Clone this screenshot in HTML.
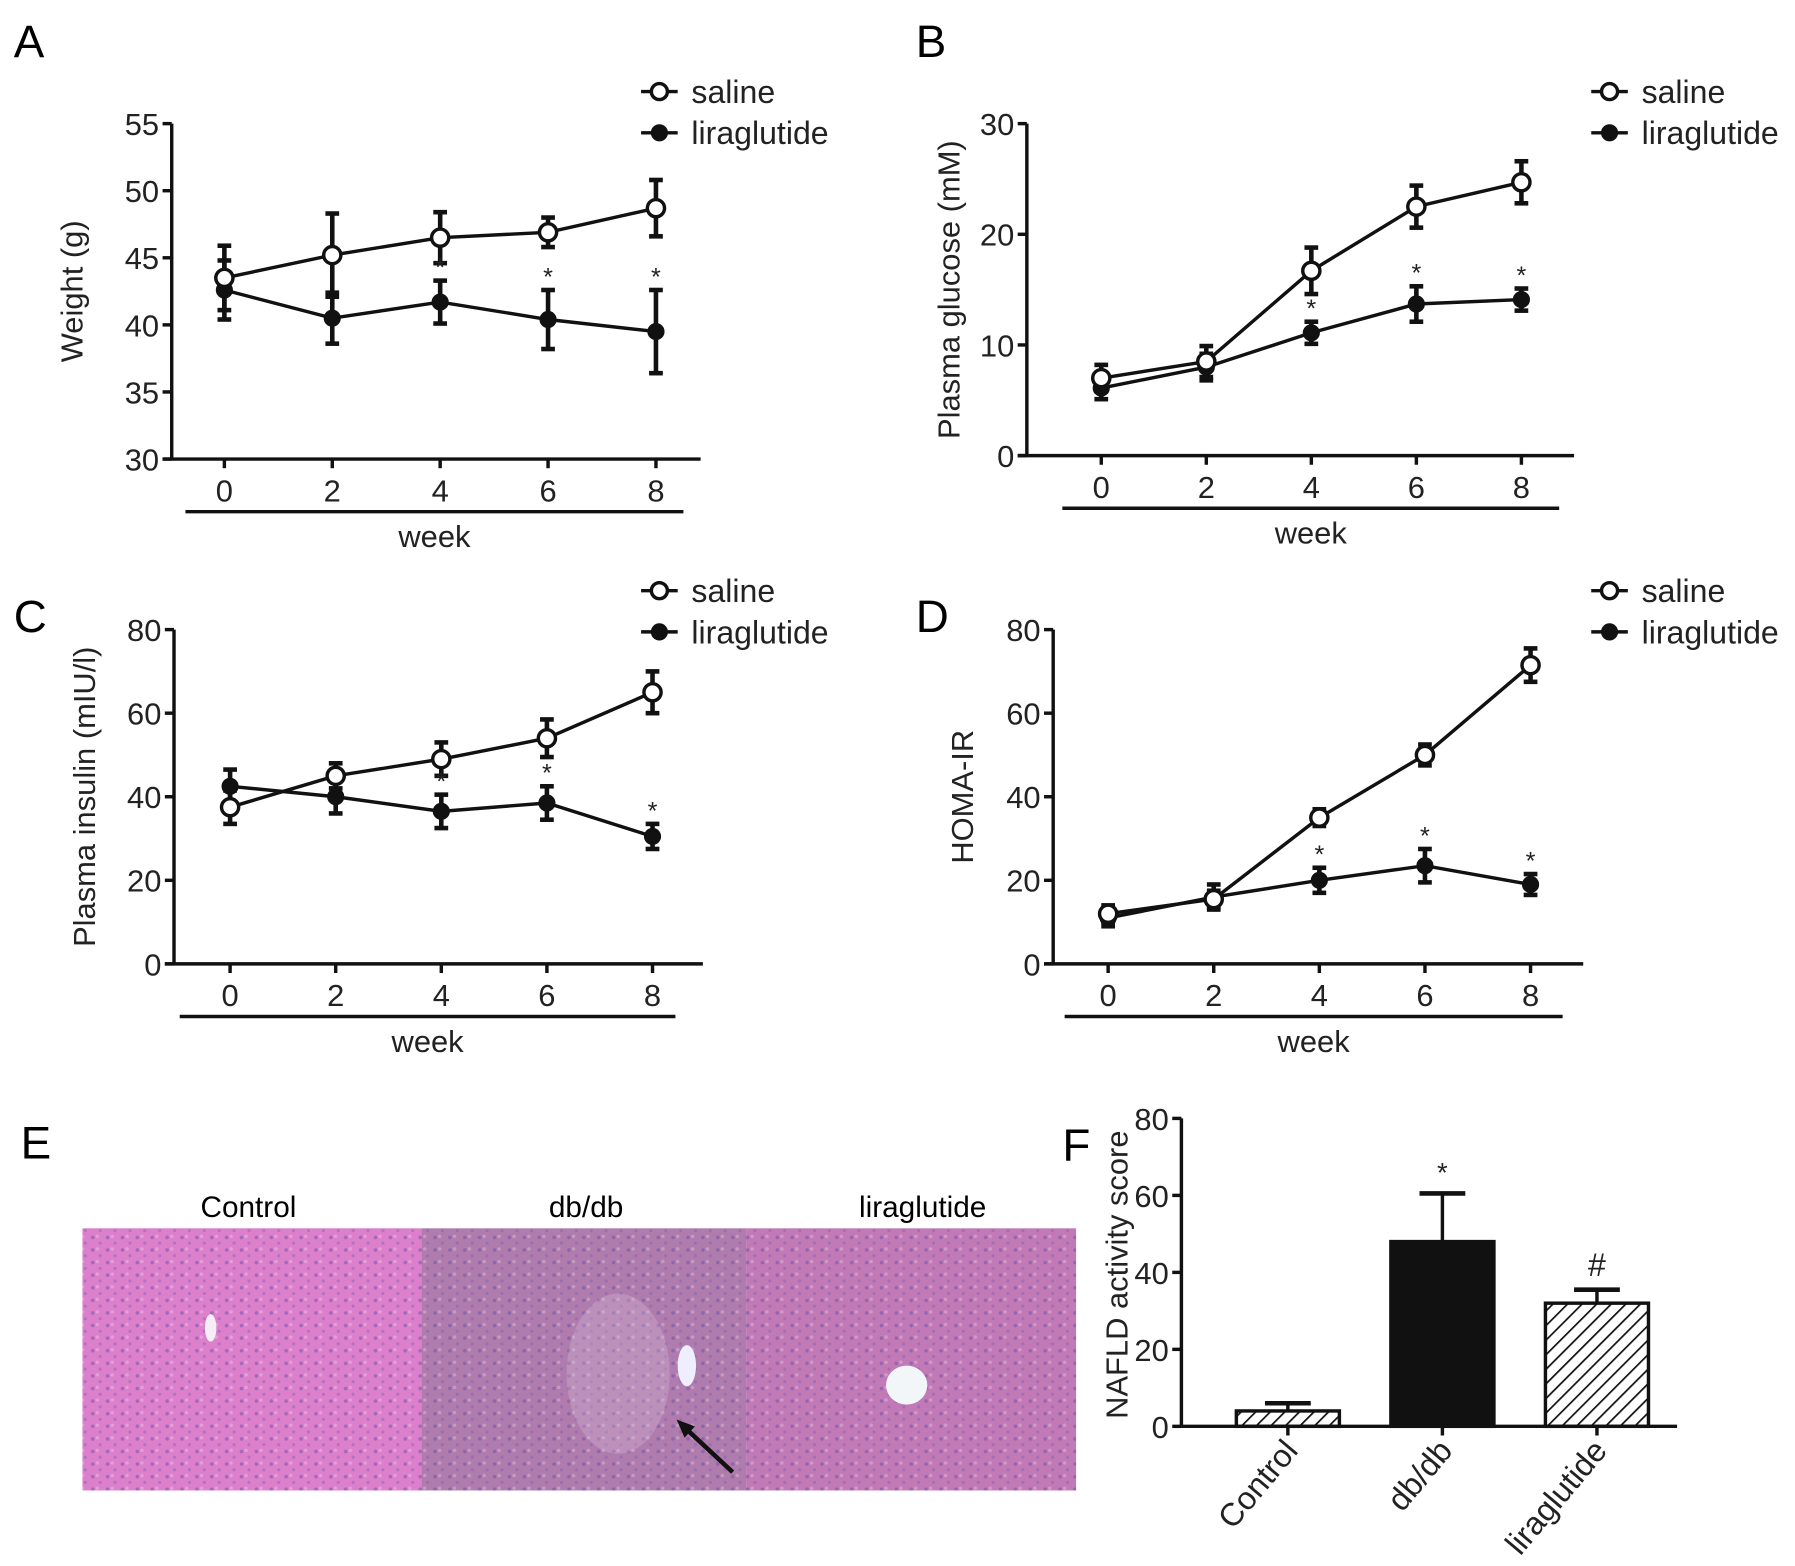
<!DOCTYPE html>
<html><head><meta charset="utf-8"><style>
html,body{margin:0;padding:0;background:#fff;}
svg{display:block;font-family:"Liberation Sans",sans-serif;}
</style></head><body>
<svg id="fig" width="1795" height="1566" viewBox="0 0 1568 1368" preserveAspectRatio="none" xmlns="http://www.w3.org/2000/svg">
<defs>
<pattern id="hatch" patternUnits="userSpaceOnUse" width="9" height="9" patternTransform="rotate(45)">
<rect width="9" height="9" fill="#fff"/><line x1="0" y1="0" x2="0" y2="9" stroke="#111" stroke-width="3"/>
</pattern>
<pattern id="cells" patternUnits="userSpaceOnUse" width="13" height="11">
<circle cx="3" cy="3" r="1.6" fill="#6a4fa8" opacity="0.5"/><circle cx="9.5" cy="8" r="1.4" fill="#7a5ab0" opacity="0.4"/><circle cx="7" cy="2" r="1.5" fill="#fff" opacity="0.25"/>
</pattern>
</defs>
<g id="panels"></g>
<g id="histo">
<text x="18" y="1012" font-size="40">E</text>
<text x="217" y="1063" font-size="26" text-anchor="middle">Control</text>
<text x="512" y="1063" font-size="26" text-anchor="middle">db/db</text>
<text x="806" y="1063" font-size="26" text-anchor="middle">liraglutide</text>
<rect x="72" y="1073" width="296" height="229" fill="#dc80cc"/>
<rect x="368" y="1073" width="284" height="229" fill="#b07cad"/>
<rect x="652" y="1073" width="288" height="229" fill="#c27ab6"/>
<rect x="72" y="1073" width="868" height="229" fill="url(#cells)"/>
<ellipse cx="540" cy="1200" rx="45" ry="70" fill="#d8c0dc" opacity="0.3"/>
<ellipse cx="600" cy="1193" rx="8" ry="18" fill="#eef" />
<ellipse cx="792" cy="1210" rx="18" ry="17" fill="#f2f6f8"/>
<ellipse cx="184" cy="1160" rx="5" ry="12" fill="#f6eef6"/>
<line x1="640" y1="1286" x2="597" y2="1246" stroke="#111" stroke-width="4"/>
<polygon points="591,1240 607,1246 598,1256" fill="#111"/>
</g>
<g id="panelF"></g>
</svg>
<script>
// ---------- data ----------
const weeks = [0, 2, 4, 6, 8];
const weightSaline = [43.5, 45.2, 46.5, 46.9, 48.7];
const weightSalineErr = [2.4, 3.1, 1.9, 1.1, 2.1];
const weightLira = [42.6, 40.5, 41.7, 40.4, 39.5];
const weightLiraErr = [2.2, 1.9, 1.6, 2.2, 3.1];
const glucoseSaline = [7.0, 8.5, 16.7, 22.5, 24.7];
const glucoseSalineErr = [1.2, 1.4, 2.1, 1.9, 1.9];
const glucoseLira = [6.1, 8.0, 11.1, 13.7, 14.1];
const glucoseLiraErr = [1.0, 1.2, 1.0, 1.6, 1.0];
const insulinSaline = [37.5, 45, 49, 54, 65];
const insulinSalineErr = [4, 3, 4, 4.5, 5];
const insulinLira = [42.5, 40, 36.5, 38.5, 30.5];
const insulinLiraErr = [4, 4, 4, 4, 3];
const homaSaline = [12, 15.5, 35, 50, 71.5];
const homaSalineErr = [2, 2, 2, 2.5, 4];
const homaLira = [11, 16, 20, 23.5, 19];
const homaLiraErr = [2, 3, 3, 4, 2.5];
const starFlags = [0, 0, 1, 1, 1];
const weightTicks = [30, 35, 40, 45, 50, 55];
const glucoseTicks = [0, 10, 20, 30];
const insulinTicks = [0, 20, 40, 60, 80];
const homaTicks = [0, 20, 40, 60, 80];
const naflCategories = ["Control", "db/db", "liraglutide"];
const naflValues = [4, 48, 32];
const naflErr = [2, 12.5, 3.5];
const naflMarks = ["", "*", "#"];
const naflTicks = [0, 20, 40, 60, 80];

const NS = "http://www.w3.org/2000/svg";
function mk(parent, tag, attrs, text) {
  const e = document.createElementNS(NS, tag);
  for (const k in attrs) e.setAttribute(k, attrs[k]);
  if (text !== undefined) e.textContent = text;
  parent.appendChild(e);
  return e;
}
const FS = 27;

function linePanel(cfg) {
  const root = document.getElementById('panels');
  const g = mk(root, 'g', {});
  
  
  const yMin = cfg.ticks[0], yMax = cfg.ticks[cfg.ticks.length - 1];
  const ys = v => cfg.yBot - (v - yMin) / (yMax - yMin) * (cfg.yBot - cfg.yTop);
  const xs = w => cfg.x0 + (w - weeks[0]) / (weeks[weeks.length - 1] - weeks[0]) * (cfg.x8 - cfg.x0);
  const lbl = mk(g, 'text', {x: cfg.lx, y: cfg.ly, 'font-size': 40}, cfg.letter);
  
  
  const ya = mk(g, 'line', {x1: cfg.ax, y1: cfg.yTop, x2: cfg.ax, y2: cfg.yBot, stroke: '#111', 'stroke-width': 3});
  
  
  const xa = mk(g, 'line', {x1: cfg.ax - 8, y1: cfg.yBot, x2: cfg.axEnd, y2: cfg.yBot, stroke: '#111', 'stroke-width': 3});
  
  
  cfg.ticks.forEach(t => {
    mk(g, 'line', {x1: cfg.ax - 8, y1: ys(t), x2: cfg.ax, y2: ys(t), stroke: '#111', 'stroke-width': 3});
    const tl = mk(g, 'text', {x: cfg.ax - 11, y: ys(t) + 10, 'font-size': FS, 'text-anchor': 'end', fill: '#222'}, t);
    
    
  });
  weeks.forEach(w => {
    mk(g, 'line', {x1: xs(w), y1: cfg.yBot, x2: xs(w), y2: cfg.yBot + 8, stroke: '#111', 'stroke-width': 3});
    const tl = mk(g, 'text', {x: xs(w), y: cfg.yBot + 37, 'font-size': FS, 'text-anchor': 'middle', fill: '#222'}, w);
    
    
  });
  const wl = mk(g, 'line', {x1: cfg.wl0, y1: cfg.yBot + 46, x2: cfg.wl1, y2: cfg.yBot + 46, stroke: '#111', 'stroke-width': 3});
  
  
  const wt = mk(g, 'text', {x: (cfg.wl0 + cfg.wl1) / 2, y: cfg.yBot + 77, 'font-size': FS, 'text-anchor': 'middle', fill: '#222'}, 'week');
  
  
  const yt = mk(g, 'text', {x: 0, y: 0, 'font-size': FS, 'text-anchor': 'middle', fill: '#222',
    transform: `translate(${cfg.ytx},${(cfg.yTop + cfg.yBot) / 2 + cfg.ytdy}) rotate(-90)`}, cfg.ytitle);
  
  
  const series = [[cfg.lira, cfg.liraErr, true, 'liraglutide'], [cfg.sal, cfg.salErr, false, 'saline']];
  series.forEach(([vals, errs, filled, nm]) => {
    const sg = mk(g, 'g', {});
    
    
    mk(sg, 'polyline', {points: vals.map((v, i) => xs(weeks[i]) + ',' + ys(v)).join(' '), fill: 'none', stroke: '#111', 'stroke-width': 3});
    vals.forEach((v, i) => {
      const x = xs(weeks[i]);
      mk(sg, 'line', {x1: x, y1: ys(v + errs[i]), x2: x, y2: ys(v - errs[i]), stroke: '#111', 'stroke-width': 4});
      mk(sg, 'line', {x1: x - 6, y1: ys(v + errs[i]), x2: x + 6, y2: ys(v + errs[i]), stroke: '#111', 'stroke-width': 4});
      mk(sg, 'line', {x1: x - 6, y1: ys(v - errs[i]), x2: x + 6, y2: ys(v - errs[i]), stroke: '#111', 'stroke-width': 4});
      const p = mk(sg, 'circle', {cx: x, cy: ys(v), r: filled ? 6 : 7.5, fill: filled ? '#111' : '#fff', stroke: '#111', 'stroke-width': 3});
      
      
    });
  });
  starFlags.forEach((f, i) => {
    if (!f) return;
    const top = ys(cfg.lira[i] + cfg.liraErr[i]);
    const s = mk(g, 'text', {x: xs(weeks[i]), y: top - 4, 'font-size': 22, 'text-anchor': 'middle', fill: '#222'}, '*');
    
    
  });
  [['saline', false, cfg.legY], ['liraglutide', true, cfg.legY + 36]].forEach(([t, filled, y]) => {
    const lg = mk(g, 'g', {});
    
    
    mk(lg, 'line', {x1: cfg.legX, y1: y, x2: cfg.legX + 32, y2: y, stroke: '#111', 'stroke-width': 3});
    mk(lg, 'circle', {cx: cfg.legX + 16, cy: y, r: filled ? 6 : 7, fill: filled ? '#111' : '#fff', stroke: '#111', 'stroke-width': 3});
    mk(lg, 'text', {x: cfg.legX + 44, y: y + 10, 'font-size': 28, fill: '#222'}, t);
  });
}

linePanel({name: 'panel-a-weight', letter: 'A', lx: 12, ly: 50, ticks: weightTicks, yTop: 108, yBot: 401, ax: 150, axEnd: 612,
  x0: 196, x8: 573, wl0: 162, wl1: 597, ytx: 72, ytdy: 0, ytitle: 'Weight (g)', sal: weightSaline, salErr: weightSalineErr,
  lira: weightLira, liraErr: weightLiraErr, legX: 560, legY: 80});
linePanel({name: 'panel-b-glucose', letter: 'B', lx: 800, ly: 50, ticks: glucoseTicks, yTop: 108, yBot: 398, ax: 897, axEnd: 1375,
  x0: 962, x8: 1329, wl0: 928, wl1: 1362, ytx: 838, ytdy: 0, ytitle: 'Plasma glucose (mM)', sal: glucoseSaline, salErr: glucoseSalineErr,
  lira: glucoseLira, liraErr: glucoseLiraErr, legX: 1390, legY: 80});
linePanel({name: 'panel-c-insulin', letter: 'C', lx: 12, ly: 552, ticks: insulinTicks, yTop: 550, yBot: 842, ax: 152, axEnd: 614,
  x0: 201, x8: 570, wl0: 157, wl1: 590, ytx: 83, ytdy: 0, ytitle: 'Plasma insulin (mIU/l)', sal: insulinSaline, salErr: insulinSalineErr,
  lira: insulinLira, liraErr: insulinLiraErr, legX: 560, legY: 516});
linePanel({name: 'panel-d-homa', letter: 'D', lx: 800, ly: 552, ticks: homaTicks, yTop: 550, yBot: 842, ax: 920, axEnd: 1383,
  x0: 968, x8: 1337, wl0: 930, wl1: 1365, ytx: 850, ytdy: 0, ytitle: 'HOMA-IR', sal: homaSaline, salErr: homaSalineErr,
  lira: homaLira, liraErr: homaLiraErr, legX: 1390, legY: 516});

(function () {
  const g = document.getElementById('panelF');
  
  
  const yTop = 977, yBot = 1246, ax = 1032;
  const ys = v => yBot - (v - naflTicks[0]) / (naflTicks[naflTicks.length - 1] - naflTicks[0]) * (yBot - yTop);
  const bx = i => 1125 + i * 135;
  const lb = mk(g, 'text', {x: 928, y: 1014, 'font-size': 40}, 'F');
  
  
  const yt = mk(g, 'text', {x: 0, y: 0, 'font-size': FS, 'text-anchor': 'middle', fill: '#222', transform: `translate(994,${(yTop + yBot) / 2 + 2}) rotate(-90)`}, 'NAFLD activity score');
  
  
  naflCategories.forEach((c, i) => {
    const x = bx(i), v = naflValues[i], e = naflErr[i];
    mk(g, 'line', {x1: x, y1: ys(v + e), x2: x, y2: ys(v), stroke: '#111', 'stroke-width': 3});
    mk(g, 'line', {x1: x - 20, y1: ys(v + e), x2: x + 20, y2: ys(v + e), stroke: '#111', 'stroke-width': 4});
    const b = mk(g, 'rect', {x: x - 45, y: ys(v), width: 90, height: ys(0) - ys(v), fill: i === 1 ? '#111' : 'url(#hatch)', stroke: '#111', 'stroke-width': 3});
    
    
    if (naflMarks[i]) {
      const m = mk(g, 'text', {x: x, y: ys(v + e) - (naflMarks[i] === '*' ? 10 : 12), 'font-size': naflMarks[i] === '*' ? 24 : 28, 'text-anchor': 'middle', fill: '#222'}, naflMarks[i]);
      
      
    }
    mk(g, 'line', {x1: x, y1: yBot, x2: x, y2: yBot + 8, stroke: '#111', 'stroke-width': 3});
    const cl = mk(g, 'text', {x: 0, y: 0, 'font-size': 28, 'text-anchor': 'end', fill: '#222', transform: `translate(${x + 10},${yBot + 22}) rotate(-50)`}, c);
    
    
  });
  mk(g, 'line', {x1: ax, y1: yTop, x2: ax, y2: yBot, stroke: '#111', 'stroke-width': 3});
  mk(g, 'line', {x1: ax, y1: yBot, x2: 1465, y2: yBot, stroke: '#111', 'stroke-width': 3});
  naflTicks.forEach(t => {
    mk(g, 'line', {x1: ax - 8, y1: ys(t), x2: ax, y2: ys(t), stroke: '#111', 'stroke-width': 3});
    const tl = mk(g, 'text', {x: ax - 11, y: ys(t) + 10, 'font-size': FS, 'text-anchor': 'end', fill: '#222'}, t);
    
    
  });
  // shift y title left of tick labels
  yt.setAttribute('transform', `translate(985,${(yTop + yBot) / 2 + 2}) rotate(-90)`);
  const tl0 = g.querySelectorAll('text');
})();
</script>
</body></html>
